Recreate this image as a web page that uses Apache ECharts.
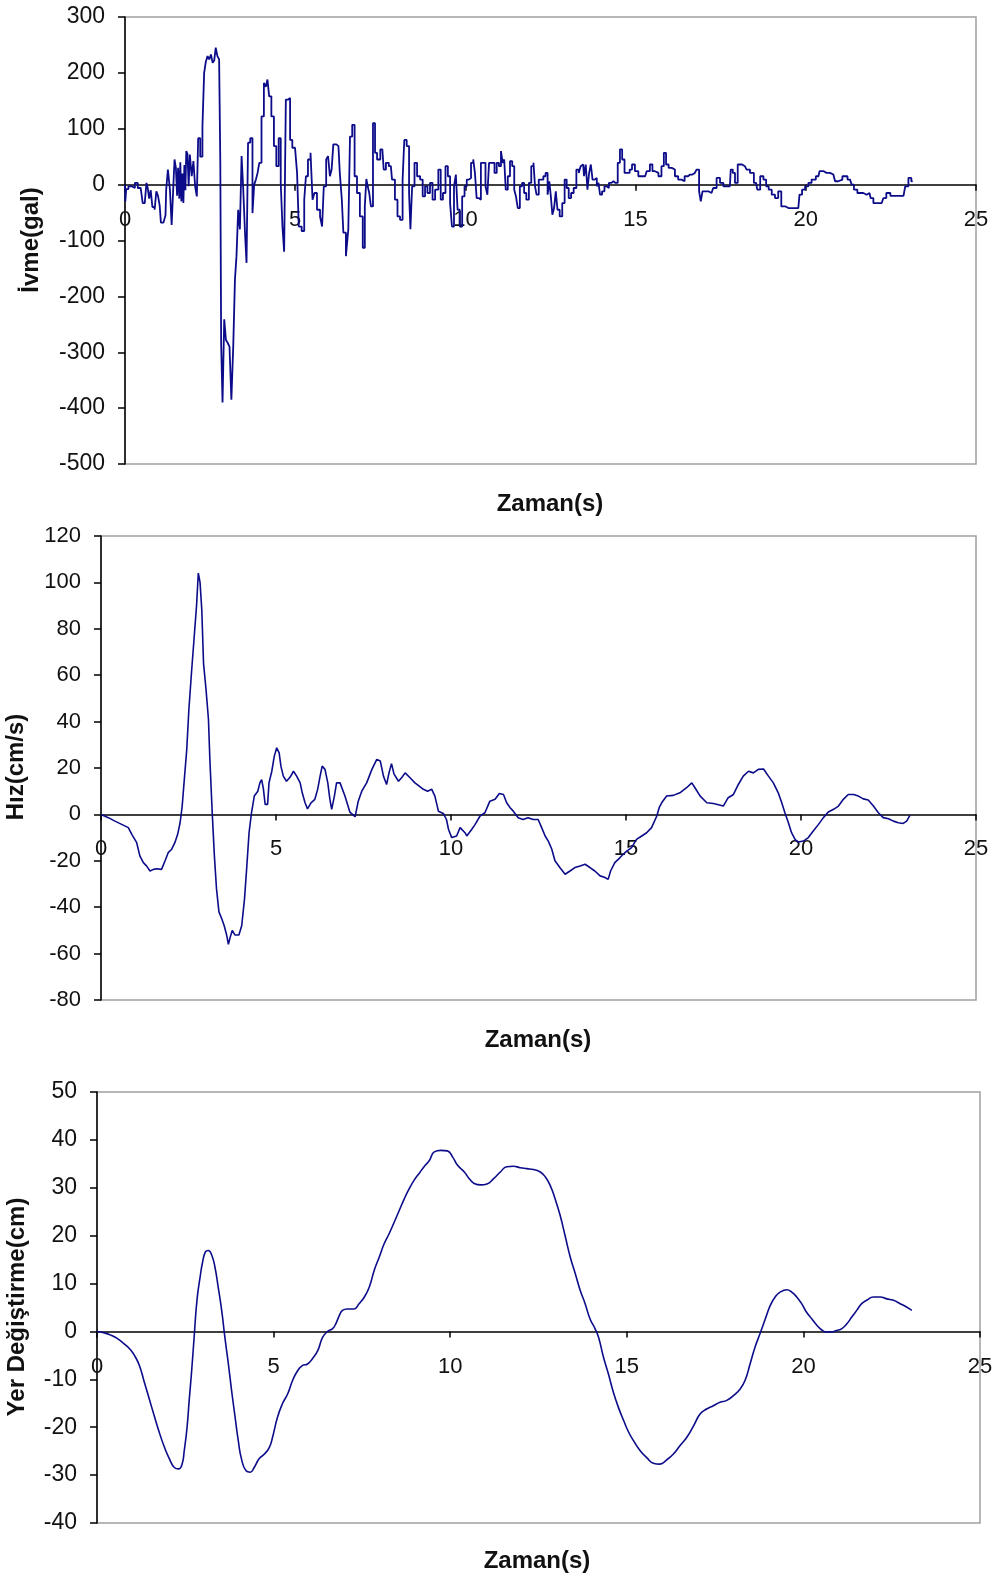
<!DOCTYPE html>
<html>
<head>
<meta charset="utf-8">
<script src="https://cdn.jsdelivr.net/npm/echarts@6/dist/echarts.min.js"></script>
<style>
  html, body { margin: 0; padding: 0; background: #fff; }
  #chart { width: 996px; height: 1580px; }
</style>
</head>
<body>
<div id="chart"></div>
<script>
// zaman (s) / değer çiftleri
var ivmeData = [
  [0,0],[0.02,-30],[0.05,-8],[0.15,-3],[0.25,-6],[0.33,3],[0.42,-6],[0.5,-9],[0.54,-33],[0.62,-30],
  [0.64,3],[0.69,-5],[0.73,-25],[0.78,-10],[0.83,-40],[0.91,-45],[0.93,-12],[1.01,-20],[1.03,-38],[1.08,-68],
  [1.18,-66],[1.2,-55],[1.22,-9],[1.3,27],[1.34,-9],[1.4,-72],[1.44,-3],[1.47,45],[1.52,30],[1.54,-20],
  [1.58,30],[1.61,-25],[1.64,40],[1.67,-30],[1.7,20],[1.73,-33],[1.76,35],[1.79,-10],[1.81,60],[1.86,55],
  [1.88,-3],[1.93,54],[1.99,15],[2.03,42],[2.09,-3],[2.13,-21],[2.17,83],[2.25,50],[2.3,104],[2.35,200],
  [2.4,220],[2.45,230],[2.5,224],[2.55,233],[2.6,218],[2.64,222],[2.69,245],[2.74,230],[2.79,224],[2.81,39],
  [2.84,-286],[2.89,-390],[2.94,-241],[2.99,-278],[3.04,-283],[3.1,-290],[3.15,-385],[3.21,-289],[3.25,-170],[3.3,-128],
  [3.35,-45],[3.4,-80],[3.45,51],[3.5,-10],[3.55,-86],[3.59,-140],[3.64,75],[3.72,83],[3.77,-51],[3.82,0],
  [3.87,9],[3.92,21],[3.97,39],[4.05,122],[4.11,182],[4.16,175],[4.21,188],[4.26,158],[4.34,122],[4.41,69],
  [4.48,33],[4.55,83],[4.6,3],[4.65,-75],[4.7,-120],[4.75,152],[4.82,155],[4.88,80],[4.95,66],[5.04,63],
  [5.07,21],[5.14,-75],[5.24,-83],[5.29,-27],[5.34,15],[5.41,45],[5.49,57],[5.53,-27],[5.6,-15],[5.68,-45],
  [5.78,-57],[5.8,-75],[5.88,-3],[5.94,45],[5.99,51],[6.05,15],[6.09,27],[6.15,72],[6.27,69],[6.35,21],
  [6.39,-27],[6.44,-86],[6.54,-128],[6.58,-80],[6.64,86],[6.71,107],[6.78,15],[6.85,-15],[6.95,-57],[7.02,-113],
  [7.07,-39],[7.11,10],[7.15,-3],[7.2,-15],[7.25,-39],[7.32,110],[7.37,57],[7.44,45],[7.56,63],[7.64,27],
  [7.69,39],[7.81,33],[7.88,9],[7.98,-27],[8.03,-57],[8.13,-63],[8.18,9],[8.23,80],[8.32,69],[8.37,-15],
  [8.4,-80],[8.47,-3],[8.54,39],[8.62,15],[8.72,9],[8.77,-21],[8.86,-3],[8.91,-15],[9.01,3],[9.06,-27],
  [9.16,-9],[9.25,27],[9.3,-27],[9.38,-15],[9.45,33],[9.52,15],[9.58,-33],[9.63,-75],[9.7,-3],[9.74,18],
  [9.8,-45],[9.87,-75],[9.94,-21],[10.01,-3],[10.07,9],[10.13,12],[10.2,39],[10.26,45],[10.3,21],[10.36,-24],
  [10.43,-27],[10.48,39],[10.56,39],[10.62,-3],[10.67,-18],[10.72,39],[10.82,39],[10.89,21],[10.95,39],[11.02,33],
  [11.07,60],[11.12,39],[11.16,45],[11.21,-9],[11.28,15],[11.34,42],[11.41,33],[11.46,-9],[11.51,-21],[11.57,-42],
  [11.63,-3],[11.7,3],[11.75,-15],[11.83,-27],[11.9,3],[11.97,33],[12.03,39],[12.06,-3],[12.12,-18],[12.19,9],
  [12.26,9],[12.32,15],[12.39,21],[12.44,-18],[12.49,6],[12.53,-21],[12.58,-54],[12.63,-42],[12.68,-12],[12.73,-45],
  [12.81,-57],[12.88,-33],[12.95,9],[13.0,-6],[13.07,-24],[13.14,-15],[13.22,-6],[13.3,27],[13.36,21],[13.41,33],
  [13.46,36],[13.51,15],[13.56,36],[13.61,-9],[13.66,21],[13.71,36],[13.76,9],[13.83,12],[13.89,-3],[13.93,3],
  [13.98,-18],[14.05,-12],[14.12,-3],[14.18,-6],[14.25,3],[14.32,6],[14.38,3],[14.44,3],[14.51,39],[14.57,63],
  [14.64,45],[14.71,21],[14.79,21],[14.86,27],[14.93,36],[15.03,24],[15.13,15],[15.28,15],[15.37,24],[15.47,36],
  [15.52,24],[15.62,21],[15.72,15],[15.8,33],[15.86,57],[15.93,36],[16.01,30],[16.11,27],[16.2,15],[16.3,9],
  [16.4,6],[16.48,15],[16.6,18],[16.74,21],[16.84,27],[16.89,-12],[16.94,-30],[16.99,-12],[17.14,-12],[17.23,-15],
  [17.33,-6],[17.43,12],[17.53,3],[17.63,-3],[17.77,-3],[17.82,27],[17.89,21],[17.95,3],[18.05,36],[18.21,33],
  [18.31,27],[18.41,21],[18.54,3],[18.61,-9],[18.71,15],[18.8,9],[18.87,-3],[18.95,-9],[19.05,-18],[19.14,-24],
  [19.24,-12],[19.32,-39],[19.49,-42],[19.78,-42],[19.85,-18],[19.93,-9],[20.03,-3],[20.12,3],[20.22,9],[20.37,15],
  [20.44,24],[20.61,21],[20.81,18],[20.91,6],[21.0,9],[21.15,15],[21.3,9],[21.39,0],[21.44,-9],[21.59,-15],
  [21.79,-18],[21.87,-15],[21.94,-24],[22.03,-33],[22.23,-33],[22.33,-24],[22.4,-15],[22.57,-20],[22.87,-20],[22.97,-3],
  [23.06,12],[23.14,6]
];

var hizData = [
  [0,0],[0.21,-1.4],[0.4,-2.9],[0.59,-4.3],[0.78,-5.7],[0.88,-8.6],[1.02,-12.2],[1.11,-17.9],[1.21,-20.8],[1.3,-22.2],
  [1.4,-24.4],[1.5,-23.7],[1.59,-23.4],[1.73,-23.7],[1.83,-20],[1.92,-16.5],[2.02,-15],[2.11,-12.2],[2.19,-8.6],[2.26,-3.6],
  [2.32,3.6],[2.38,15],[2.45,28],[2.51,45],[2.59,62],[2.67,78],[2.73,90],[2.78,104],[2.83,100],[2.88,88],
  [2.93,65],[3.0,54],[3.07,41],[3.11,24],[3.18,0],[3.24,-18],[3.3,-32],[3.37,-42],[3.45,-45],[3.52,-48],
  [3.59,-52],[3.64,-56],[3.69,-53],[3.75,-50],[3.83,-52],[3.94,-52],[4.02,-48],[4.1,-36.5],[4.16,-23.7],[4.23,-7.9],
  [4.3,0.7],[4.38,7.9],[4.48,10],[4.54,13.6],[4.59,15],[4.64,11],[4.69,4.3],[4.76,4.3],[4.8,13.6],[4.88,18.6],
  [4.95,25],[5.02,28.7],[5.09,26.5],[5.14,20.8],[5.21,16.5],[5.3,14.3],[5.4,16],[5.5,18.6],[5.59,16.5],[5.69,13.6],
  [5.75,9.3],[5.83,5],[5.9,2.4],[6.0,5],[6.11,6.5],[6.19,10.8],[6.26,16.5],[6.32,20.8],[6.4,19.4],[6.48,13.6],
  [6.54,6.5],[6.59,2.2],[6.67,8],[6.73,13.6],[6.83,13.6],[6.97,7.9],[7.11,1],[7.26,-1],[7.35,5.7],[7.45,10],
  [7.59,13.6],[7.74,19.4],[7.88,23.7],[7.98,23],[8.07,16.5],[8.16,12.9],[8.23,18],[8.3,21.9],[8.37,17.5],[8.5,14.3],
  [8.6,16],[8.69,17.9],[8.83,15.8],[8.97,13.6],[9.11,12],[9.21,10.8],[9.33,10],[9.45,10.8],[9.54,7.9],[9.64,1.4],
  [9.78,0.4],[9.87,-2.2],[9.93,-6.5],[10.02,-10],[10.16,-9.3],[10.26,-5.7],[10.4,-7.9],[10.45,-9.3],[10.59,-6.5],[10.69,-4.3],
  [10.83,-0.7],[10.97,0.7],[11.11,5.7],[11.26,6.5],[11.38,9],[11.5,8.6],[11.59,5],[11.69,2.9],[11.78,1.4],[11.92,-1.4],
  [12.06,-2.2],[12.2,-1.4],[12.35,-2.2],[12.49,-2.2],[12.59,-5.7],[12.69,-9.3],[12.78,-11.5],[12.88,-15],[12.97,-20],[13.11,-22.9],
  [13.26,-25.8],[13.4,-24.4],[13.54,-22.9],[13.69,-22.2],[13.83,-21.5],[13.97,-22.9],[14.11,-24.4],[14.26,-26.5],[14.4,-27.2],[14.49,-28],
  [14.56,-24.4],[14.68,-20.8],[14.83,-18.6],[14.92,-17.2],[15.02,-15.8],[15.16,-14.3],[15.3,-10.8],[15.45,-9.3],[15.59,-7.9],[15.73,-5.7],
  [15.88,-0.7],[15.95,3],[16.02,5],[16.16,7.9],[16.35,8.2],[16.54,9.3],[16.73,11.5],[16.88,13.6],[16.97,11.5],[17.12,7.9],
  [17.31,5],[17.5,4.7],[17.64,4.2],[17.78,3.6],[17.92,7.2],[18.07,8.6],[18.21,12.9],[18.35,16.5],[18.5,18.6],[18.64,17.9],
  [18.78,19.4],[18.93,19.6],[19.07,16.5],[19.21,13.6],[19.35,9.3],[19.45,5],[19.54,0.7],[19.64,-3.6],[19.73,-7.9],[19.83,-10.8],
  [19.92,-11.9],[20.07,-11.5],[20.21,-10],[20.35,-7.2],[20.5,-4.3],[20.64,-1.4],[20.78,1],[20.93,2.2],[21.07,3.6],[21.21,6.5],
  [21.35,8.6],[21.5,8.6],[21.64,7.9],[21.78,6.7],[21.92,6.2],[22.07,3.6],[22.21,0.7],[22.35,-1.4],[22.5,-1.9],[22.64,-2.9],
  [22.78,-3.6],[22.92,-3.9],[23.02,-2.9],[23.11,-0.4]
];

var yerData = [
  [0,0],[0.21,-0.3],[0.4,-0.8],[0.58,-1.5],[0.77,-2.6],[0.92,-3.6],[1.06,-5],[1.2,-7.1],[1.34,-10.6],[1.48,-14.1],
  [1.62,-17.6],[1.76,-21],[1.91,-24.2],[2.05,-26.6],[2.19,-28.4],[2.31,-28.7],[2.41,-27.7],[2.47,-24.9],[2.55,-20],[2.61,-14.4],
  [2.68,-8.2],[2.75,-1.2],[2.83,6.5],[2.92,11.4],[2.99,14.5],[3.07,16.6],[3.15,16.9],[3.25,15.9],[3.34,13.4],[3.43,9.3],
  [3.53,4.4],[3.62,-1.2],[3.72,-6.8],[3.81,-12.3],[3.91,-17.9],[4.0,-22.8],[4.09,-26.6],[4.22,-29.1],[4.34,-29.4],[4.45,-28.4],
  [4.59,-26.6],[4.74,-25.6],[4.88,-24.2],[4.97,-22.1],[5.11,-17.9],[5.25,-15.1],[5.4,-13],[5.54,-10.2],[5.68,-8.2],[5.82,-7.1],
  [5.96,-6.8],[6.1,-5.7],[6.25,-4],[6.39,-1.2],[6.53,0],[6.67,0.6],[6.76,1.6],[6.86,3.3],[6.95,4.4],[7.09,4.7],
  [7.28,4.7],[7.42,5.8],[7.57,7.2],[7.71,9.3],[7.85,12.8],[7.99,15.5],[8.13,18.3],[8.27,20.4],[8.42,22.9],[8.56,25.3],
  [8.7,27.7],[8.84,29.8],[8.98,31.6],[9.12,33],[9.26,34.4],[9.41,35.7],[9.55,37.5],[9.74,37.8],[9.92,37.7],[10.07,36.4],
  [10.21,34.7],[10.4,33.3],[10.54,31.9],[10.68,30.9],[10.87,30.6],[11.04,30.8],[11.23,31.9],[11.42,33.3],[11.6,34.4],[11.79,34.5],
  [11.98,34.2],[12.17,34],[12.36,33.8],[12.55,33.3],[12.69,32.3],[12.83,30.5],[12.97,27.7],[13.11,24.3],[13.25,20.1],[13.4,15.5],
  [13.54,12.1],[13.68,8.6],[13.82,5.8],[13.96,2.6],[14.1,0.6],[14.2,-1.2],[14.34,-5.4],[14.48,-8.9],[14.62,-12.7],[14.76,-15.8],
  [14.91,-18.6],[15.05,-21],[15.19,-22.8],[15.38,-24.9],[15.57,-26.4],[15.75,-27.5],[15.94,-27.7],[16.13,-26.8],[16.32,-25.6],[16.51,-23.8],
  [16.7,-22.1],[16.89,-19.7],[17.08,-17.2],[17.26,-16.2],[17.45,-15.5],[17.64,-14.8],[17.83,-14.4],[18.02,-13.4],[18.21,-12],[18.35,-10.2],
  [18.49,-6.8],[18.63,-3.3],[18.77,-0.5],[18.92,2.6],[19.06,5.4],[19.2,7.2],[19.34,8.2],[19.53,8.7],[19.67,8.2],[19.81,7.2],
  [19.95,5.8],[20.09,4],[20.24,2.6],[20.38,1.3],[20.52,0.3],[20.66,-0.1],[20.8,-0.1],[20.94,0.2],[21.09,0.6],[21.23,1.6],
  [21.37,3],[21.51,4.4],[21.65,5.8],[21.79,6.5],[21.98,7.2],[22.17,7.2],[22.36,6.8],[22.55,6.5],[22.74,5.8],[22.92,5.1],
  [23.07,4.4]
];

var FONT = '"Liberation Sans", Arial, sans-serif';
var LINE_COLOR = '#0c0c8a';

// grid boxes: [left, top, width, height]
var boxes = [[125, 17, 851, 447], [101, 536, 875, 464], [97, 1092, 883, 431]];
var yRanges = [[-500, 300, 100], [-80, 120, 20], [-40, 50, 10]];

// the time axis sits on the zero line: shift it up from the grid bottom
function xAxisOf(i) {
    var h = boxes[i][3], r = yRanges[i];
    return {
        type: 'value', gridIndex: i,
        min: 0, max: 25, interval: 5,
        position: 'bottom',
        offset: -h * (0 - r[0]) / (r[1] - r[0]),
        axisLine: { onZero: false, lineStyle: { color: '#000', width: 1.5 } },
        axisTick: { show: true, length: 6, lineStyle: { color: '#000', width: 1.5 } },
        axisLabel: { color: '#111', fontSize: 22, fontFamily: FONT, margin: 24, showMinLabel: true, showMaxLabel: true },
        splitLine: { show: false }
    };
}

function yAxisOf(i, fontSize) {
    var r = yRanges[i];
    return {
        type: 'value', gridIndex: i,
        min: r[0], max: r[1], interval: r[2],
        axisLine: { show: true, onZero: false, lineStyle: { color: '#000', width: 1.5 } },
        axisTick: { show: true, length: 7, lineStyle: { color: '#000', width: 1.5 } },
        axisLabel: { color: '#111', fontSize: fontSize, fontFamily: FONT, margin: 20, showMinLabel: true, showMaxLabel: true },
        splitLine: { show: false }
    };
}

function axisTitle(text, x, y, vertical) {
    return {
        type: 'text', x: x, y: y,
        rotation: vertical ? Math.PI / 2 : 0,
        style: {
            text: text, fill: '#111',
            fontSize: 24, fontWeight: 'bold', fontFamily: FONT,
            align: 'center', verticalAlign: 'middle'
        }
    };
}

function gridOf(i) {
    var b = boxes[i];
    return {
        left: b[0], top: b[1], width: b[2], height: b[3],
        show: true, borderColor: '#a0a0a0', borderWidth: 1.5, backgroundColor: '#fff',
        outerBoundsMode: 'none', containLabel: false
    };
}

var myChart = echarts.init(document.getElementById('chart'));
var option = {
    animation: false,
    backgroundColor: '#fff',
    grid: [gridOf(0), gridOf(1), gridOf(2)],
    xAxis: [xAxisOf(0), xAxisOf(1), xAxisOf(2)],
    yAxis: [yAxisOf(0, 23), yAxisOf(1, 22), yAxisOf(2, 23)],
    graphic: [
        axisTitle('İvme(gal)', 31, 240, true),
        axisTitle('Zaman(s)', 550, 504, false),
        axisTitle('Hız(cm/s)', 16, 767, true),
        axisTitle('Zaman(s)', 538, 1040, false),
        axisTitle('Yer Değiştirme(cm)', 17, 1307, true),
        axisTitle('Zaman(s)', 537, 1561, false)
    ],
    series: [{
        name: 'İvme', type: 'line', xAxisIndex: 0, yAxisIndex: 0,
        step: 'middle',
        showSymbol: false, silent: true,
        lineStyle: { color: LINE_COLOR, width: 1.8 },
        data: ivmeData
    }, {
        name: 'Hız', type: 'line', xAxisIndex: 1, yAxisIndex: 1,
        showSymbol: false, silent: true,
        lineStyle: { color: LINE_COLOR, width: 1.6 },
        data: hizData
    }, {
        name: 'Yer Değiştirme', type: 'line', xAxisIndex: 2, yAxisIndex: 2,
        smooth: true,
        showSymbol: false, silent: true,
        lineStyle: { color: LINE_COLOR, width: 1.6 },
        data: yerData
    }]
};
myChart.setOption(option);
</script>
</body>
</html>
